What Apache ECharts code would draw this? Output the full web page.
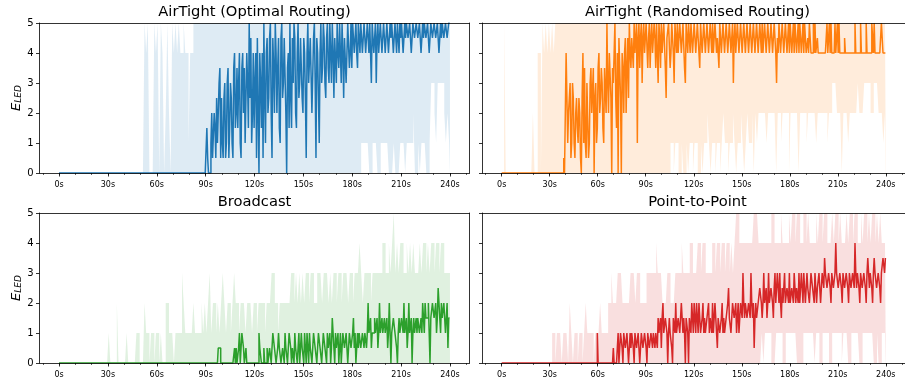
<!DOCTYPE html>
<html><head><meta charset="utf-8">
<script src="https://cdn.jsdelivr.net/npm/echarts@6/dist/echarts.min.js"></script>
<style>html,body{margin:0;padding:0;background:#fff}#c{width:905px;height:383px}</style>
</head><body><div id="c"></div>
<script>
// ---- tick labels ----
const tickSeconds = [0, 30, 60, 90, 120, 150, 180, 210, 240];
const minorSeconds = [-10, 0, 10, 20, 30, 40, 50, 60, 70, 80, 90, 100, 110, 120, 130, 140, 150, 160, 170, 180, 190, 200, 210, 220, 230, 240, 250];
const titles = ['AirTight (Optimal Routing)', 'AirTight (Randomised Routing)', 'Broadcast', 'Point-to-Point'];

// ---- values: *Mid at whole seconds t = 0..240, *MidH at t + 0.5 s (t = 0..239),
//      *Lo / *Hi = band bounds at whole seconds ----
// AirTight (Optimal Routing)
const optMid = [
0,0,0,0,0,0,0,0,0,0,
0,0,0,0,0,0,0,0,0,0,
0,0,0,0,0,0,0,0,0,0,
0,0,0,0,0,0,0,0,0,0,
0,0,0,0,0,0,0,0,0,0,
0,0,0,0,0,0,0,0,0,0,
0,0,0,0,0,0,0,0,0,0,
0,0,0,0,0,0,0,0,0,0,
0,0,0,0,0,0,0,0,0,0,
0,1.5,0,0,2,0.5,1.5,2.5,1,3.5,
2.5,0.5,3,1,3.5,1.5,2.5,0.5,4,2,
1.5,4,0.5,4,3.5,1,3,5,4.5,2,
1.5,4,4.5,0,3,4,5,1,4.5,2.5,
5,0.5,3.5,5,2,4.5,1,5,3,4.5,
0,4,5,1.5,3,4.5,1.5,5,3,4.5,
2,4,0.5,5,3,4.5,2,5,0.5,4,
1,5,3.5,4.5,2.5,5,3,4,5,2.5,
4.5,5,3.5,4,5,2.5,4.5,3,5,4,
3.5,5,4.5,4,5,4,5,4.5,5,4,
4.5,5,3,5,4,3,5,4,5,4.5,
5,4,5,4,4.5,5,4,5,5,4,
4.5,5,4,4.5,5,4.5,5,4,5,4.5,
5,4.5,5,4,4.5,5,4.5,5,4,5,
4.5,5,4.5,5,4,4.5,5,4.5,5,4.5,
5];
const optMidH = [
0,0,0,0,0,0,0,0,0,0,
0,0,0,0,0,0,0,0,0,0,
0,0,0,0,0,0,0,0,0,0,
0,0,0,0,0,0,0,0,0,0,
0,0,0,0,0,0,0,0,0,0,
0,0,0,0,0,0,0,0,0,0,
0,0,0,0,0,0,0,0,0,0,
0,0,0,0,0,0,0,0,0,0,
0,0,0,0,0,0,0,0,0,0,
0,0.5,0,1,0.5,2,0.5,1,3,0.5,
1,2.5,0.5,3,0.5,3,1,3.5,1.5,3.5,
3,1,3.5,2,1,4,1.5,2.5,1,4,
3,0.5,2,4,1.5,0.5,2.5,4,2,4.5,
2,4.5,2,4,3.5,1.5,4.5,2.5,4.5,2,
3.5,1.5,2.5,4.5,5,2,4,2.5,4.5,2.5,
4.5,2.5,4,3,4.5,2,4.5,3,4.5,2.5,
4,3,5,3,4.5,3.5,5,3,4,4.5,
3,4,5,3,4,4.5,3,5,3.5,5,
5,4,5,3.5,4.5,5,4,5,4,5,
4,4,5,4,5,4.5,4,5,4,5,
4,5,4,5,5,4,5,4,4.5,5,
5,4,5,5,4.5,5,4,5,4.5,5,
4.5,5,4,5,5,4.5,5,4,5,4.5,
5,4.5,5,4,5,5,4.5,5,4.5,5];
const optLo = [
0,0,0,0,0,0,0,0,0,0,
0,0,0,0,0,0,0,0,0,0,
0,0,0,0,0,0,0,0,0,0,
0,0,0,0,0,0,0,0,0,0,
0,0,0,0,0,0,0,0,0,0,
0,0,0,0,0,0,0,0,0,0,
0,0,0,0,0,0,0,0,0,0,
0,0,0,0,0,0,0,0,0,0,
0,0,0,0,0,0,0,0,0,0,
0,0,0,0,0,0,0,0,0,0,
0,0,0,0,0,0,0,0,0,0,
0,0,0,0,0,0,0,0,0,0,
0,0,0,0,0,0,0,0,0,0,
0,0,0,0,0,0,0,0,0,0,
0,0,0,0,0,0,0,0,0,0,
0,0,0,0,0,0,0,0,0,0,
0,0,0,0,0,0,0,0,0,0,
0,0,0,0,0,0,0,0,0,0,
0,0,0,0,0,0,1,1,1,1,
1,0,0,1,1,1,0,0,1,1,
1,1,1,0,0,0,1,0,0,0,
1,1,1,0,1,1,1,1,2,0,
0,1,0,1,1,1,0,0,1,3,
3,2,1,3,3,3,3,2,1,2,
1];
const optHi = [
0,0,0,0,0,0,0,0,0,0,
0,0,0,0,0,0,0,0,0,0,
0,0,0,0,0,0,0,0,0,0,
0,0,0,0,0,0,0,0,0,0,
0,0,0,0,0,0,0,0,0,0,
0,0,0,5,4,5,0,0,0,5,
4,5,0,5,4,0,2,5,2,0,
5,4,5,4,5,4,4,5,4,4,
1,4,4,5,5,5,5,5,5,5,
5,5,5,5,5,5,5,5,5,5,
5,5,5,5,5,5,5,5,5,5,
5,5,5,5,5,5,5,5,5,5,
5,5,5,5,5,5,5,5,5,5,
5,5,5,5,5,5,5,5,5,5,
5,5,5,5,5,5,5,5,5,5,
5,5,5,5,5,5,5,5,5,5,
5,5,5,5,5,5,5,5,5,5,
5,5,5,5,5,5,5,5,5,5,
5,5,5,5,5,5,5,5,5,5,
5,5,5,5,5,5,5,5,5,5,
5,5,5,5,5,5,5,5,5,5,
5,5,5,5,5,5,5,5,5,5,
5,5,5,5,5,5,5,5,5,5,
5,5,5,5,5,5,5,5,5,5,
5];

// AirTight (Randomised Routing)
const rndMid = [
0,0,0,0,0,0,0,0,0,0,
0,0,0,0,0,0,0,0,0,0,
0,0,0,0,0,0,0,0,0,0,
0,0,0,0,0,0,0,0,0,0.5,
0,4,2,3,1,2.5,0.5,2.5,1,2,
0,4,3.5,0.5,3,1,3.5,2,0,3,
1.5,4,2.5,3,1,3.5,5,2,4,0,
3,5,1.5,0,4.5,0,3.5,4,2,4.5,
5,3.5,4.5,5,4,1,5,4.5,3,5,
4,5,4.5,3.5,5,4,4.5,5,3,4.5,
5,4,5,2.5,4.5,5,4,5,3,4.5,
5,4,5,4.5,5,3,4.5,5,4,5,
4.5,5,4,5,3.5,4.5,4,4.5,4,5,
4,4.5,5,4,5,4.5,3.5,5,4,5,
4.5,5,4,5,4.5,3,5,4,5,4.5,
5,4,5,4,5,4.5,5,4,5,4,
5,4,4.5,5,4,5,4,5,4,5,
4,5,3,4,5,4,4.5,4,5,4,
4,5,4,4,5,4,4,5,4,4,
4.5,4,4,5,4,5,5,4,4,4,
4,4,4,4,4,5,5,4,4,4,
5,5,4,4,4,4,4,4,4,4,
4,5,4,4,4,4,4,4,5,4,
4,4,5,5,4,4,4,4,5,4,
4];
const rndMidH = [
0,0,0,0,0,0,0,0,0,0,
0,0,0,0,0,0,0,0,0,0,
0,0,0,0,0,0,0,0,0,0,
0,0,0,0,0,0,0,0,0,0,
4,1,2.5,0.5,3,1,2,1.5,2.5,0.5,
2.5,1,1,3,0.5,3,2,3.5,2.5,1,
3.5,2,3.5,1.5,3.5,2,3,4,2.5,3.5,
4,2.5,4,4.5,2.5,4,2,4.5,3.5,2.5,
4,4.5,3.5,4,5,4.5,3.5,5,4.5,4,
5,3.5,5,4.5,4,5,3.5,4,5,3.5,
4,5,3.5,4.5,5,3.5,5,4,5,4,
4,5,4,5,3.5,5,4,4.5,5,4,
5,4,5,4,5,4,5,4,5,4,
5,4,4,5,4,4,5,4,5,4,
5,4,5,4,5,4.5,4,5,4,5,
4,5,4,5,4,5,4,5,4,5,
4,5,4,4,5,4,5,4,5,4,
5,4,4.5,5,4,5,4,5,4,5,
5,4,5,5,4,5,5,4,5,5,
4,4.5,5,4,4,4,4,4.5,4,4,
4,4,4,5,4,4,4,4,5,4,
4,4,4,4,4.5,4,4,4,4,4,
4,4,4,4,5,4,4,4,4,4,
4,5,4,4,4,4,4,5,4,4];
const rndLo = [
0,0,0,0,0,0,0,0,0,0,
0,0,0,0,0,0,0,0,0,0,
0,0,0,0,0,0,0,0,0,0,
0,0,0,0,0,0,0,0,0,0,
0,0,0,0,0,0,0,0,0,0,
0,0,0,0,0,0,0,0,0,0,
0,0,0,0,0,0,0,0,0,0,
0,0,0,0,0,0,0,0,0,0,
0,0,0,0,0,0,0,0,0,0,
0,0,0,0,0,0,0,0,0,0,
0,0,0,0,0,0,1,1,0,1,
1,0,0,1,0,0,1,0,1,1,
0,1,1,0,0,1,0,1,1,2,
1,0,1,1,0,1,1,0,1,2,
1,1,0,1,1,2,1,0,1,1,
2,1,0,1,2,1,1,2,0,2,
1,2,2,2,2,2,1,2,2,2,
2,2,0,2,2,1,2,2,2,2,
0,2,2,2,2,2,0,2,2,2,
2,1,2,2,2,2,2,1,2,2,
2,2,2,2,1,2,2,3,3,3,
2,2,2,0,2,2,2,1,2,2,
2,2,2,3,2,2,2,3,3,3,
3,2,2,3,3,3,2,2,2,1,
2];
const rndHi = [
0,0,5,0,0,0,0,0,0,0,
0,0,0,0,0,0,0,0,0,0,
2,0,0,4,4,0,5,4,5,4,
5,4,5,4,5,5,5,5,5,5,
5,5,5,5,5,5,5,5,5,5,
5,5,5,5,5,5,5,5,5,5,
5,5,5,5,5,5,5,5,5,5,
5,5,5,5,5,5,5,5,5,5,
5,5,5,5,5,5,5,5,5,5,
5,5,5,5,5,5,5,5,5,5,
5,5,5,5,5,5,5,5,5,5,
5,5,5,5,5,5,5,5,5,5,
5,5,5,5,5,5,5,5,5,5,
5,5,5,5,5,5,5,5,5,5,
5,5,5,5,5,5,5,5,5,5,
5,5,5,5,5,5,5,5,5,5,
5,5,5,5,5,5,5,5,5,5,
5,5,5,5,5,5,5,5,5,5,
5,5,5,5,5,5,5,5,5,5,
5,5,5,5,5,5,5,5,5,5,
5,5,5,5,5,5,5,5,5,5,
5,5,5,5,5,5,5,5,5,5,
5,5,5,5,5,5,5,5,5,5,
5,5,5,5,5,5,5,5,5,5,
5];

// Broadcast
const bcMid = [
0,0,0,0,0,0,0,0,0,0,
0,0,0,0,0,0,0,0,0,0,
0,0,0,0,0,0,0,0,0,0,
0,0,0,0,0,0,0,0,0,0,
0,0,0,0,0,0,0,0,0,0,
0,0,0,0,0,0,0,0,0,0,
0,0,0,0,0,0,0,0,0,0,
0,0,0,0,0,0,0,0,0,0,
0,0,0,0,0,0,0,0,0,0,
0,0,0,0,0,0,0,0,0.5,0.5,
0,0,0,0,0,0,0,0,0.5,0.5,
0,1,0.5,1,0,0.5,0,0,0,0,
0,0,0,1,0.5,0,0.5,0,0.5,0,
0.5,0.5,1,0.5,0,1,0.5,0,0.5,1,
0.5,0.5,1,0,0.5,1,0.5,0.5,0,1,
0.5,1,0,0.5,1,0.5,0,1,0.5,0.5,
1,0.5,0,1,0.5,1,0.5,0,1.5,0.5,
1,0.5,0,1,0.5,1,0.5,1,0,1,
0.5,1.5,1,0,0.5,1,0.5,1,1,0.5,
2,1,0.5,1,1.5,1,0.5,2,1,1,
1.5,1,0.5,2,0,1,1.5,1,0,1.5,
1,1.5,2,1,0.5,2,1,0,1.5,1,
1,1.5,1,1,1.5,2,1.5,2,0,1.5,
2,1.5,1,2.5,1.5,2,1.5,2,1,0.5,
1.5];
const bcMidH = [
0,0,0,0,0,0,0,0,0,0,
0,0,0,0,0,0,0,0,0,0,
0,0,0,0,0,0,0,0,0,0,
0,0,0,0,0,0,0,0,0,0,
0,0,0,0,0,0,0,0,0,0,
0,0,0,0,0,0,0,0,0,0,
0,0,0,0,0,0,0,0,0,0,
0,0,0,0,0,0,0,0,0,0,
0,0,0,0,0,0,0,0,0,0,
0,0,0,0,0,0,0,0,0.5,0,
0,0,0,0,0,0,0,0,0,0,
0.5,0,1,0.5,0,0,0,0,0,0,
0,0,0,0.5,0,0,0,0,0,0.5,
0,1,0.5,0,0.5,0.5,0,0.5,0,0.5,
0,1,0.5,0.5,0,0.5,0,1,0.5,0.5,
0,0.5,1,0,0.5,0,1,0.5,0,1,
0.5,0,1,0.5,0,0.5,1,0.5,1,0,
0.5,1,0.5,0,1,0.5,1,0,1,0.5,
1,0.5,0,1,1,0.5,1,0.5,1,1,
1,1.5,1,1,1,1.5,1,1,1.5,1,
1,1.5,1,1,1,1.5,1,0.5,1,1,
1.5,1,1,1.5,1,1,1.5,1,1,1.5,
1.5,1,1.5,2,1,1.5,1.5,1,1.5,2,
1.5,2,1.5,2,1,1.5,2,1,2,1.5];
const bcLo = [
0,0,0,0,0,0,0,0,0,0,
0,0,0,0,0,0,0,0,0,0,
0,0,0,0,0,0,0,0,0,0,
0,0,0,0,0,0,0,0,0,0,
0,0,0,0,0,0,0,0,0,0,
0,0,0,0,0,0,0,0,0,0,
0,0,0,0,0,0,0,0,0,0,
0,0,0,0,0,0,0,0,0,0,
0,0,0,0,0,0,0,0,0,0,
0,0,0,0,0,0,0,0,0,0,
0,0,0,0,0,0,0,0,0,0,
0,0,0,0,0,0,0,0,0,0,
0,0,0,0,0,0,0,0,0,0,
0,0,0,0,0,0,0,0,0,0,
0,0,0,0,0,0,0,0,0,0,
0,0,0,0,0,0,0,0,0,0,
0,0,0,0,0,0,0,0,0,0,
0,0,0,0,0,0,0,0,0,0,
0,0,0,0,0,0,0,0,0,0,
0,0,0,0,0,0,0,0,0,0,
0,0,0,0,0,0,0,0,0,0,
0,0,0,0,0,0,0,0,0,0,
0,0,0,0,0,0,0,0,0,0,
0,0,0,0,0,0,0,0,0,0,
0];
const bcHi = [
0,0,0,0,0,0,0,0,0,0,
0,0,0,0,0,0,0,0,0,0,
0,0,0,0,0,0,0,0,0,0,
0,1,0,0,0,0,2,0,0,0,
0,0,1,0,0,0,0,0,1,1,
0,0,0,2,1,1,0,1,1,0,
1,1,0,1,0,0,2,2,1,1,
1,0,1,1,1,1,3,2,1,1,
1,1,1,2,1,1,1,1,2,1,
2,1,2,3,1,2,2,1,2,1,
2,3,2,1,2,2,1,2,3,2,
2,1,2,2,2,1,2,2,2,1,
2,2,1,2,2,2,2,1,2,2,
2,3,3,2,2,1,2,2,2,2,
2,2,2,3,3,2,3,2,3,2,
3,2,3,3,2,3,3,2,2,3,
3,3,2,3,3,3,2,3,2,3,
3,2,3,3,2,3,3,3,2,3,
3,2,3,3,3,4,3,2,3,3,
3,3,2,3,3,3,3,3,3,4,
4,3,3,4,3,4,5,3,4,3,
4,4,3,3,4,3,4,3,4,3,
3,3,4,3,4,4,3,4,3,4,
4,3,4,4,3,4,4,3,3,3,
3];

// Point-to-Point
const ptpMid = [
0,0,0,0,0,0,0,0,0,0,
0,0,0,0,0,0,0,0,0,0,
0,0,0,0,0,0,0,0,0,0,
0,0,0,0,0,0,0,0,0,0,
0,0,0,0,0,0,0,0,0,0,
0,0,0,0,0,0,0,0,0,0,
1,0,0,0,0,0,0,0,0,0,
0.5,0,0,1,0.5,1,0,1,0.5,1,
0,0.5,1,0,1,0.5,1,0,1,0.5,
1,0,1,0.5,1,1,0.5,1,1.5,1,
0.5,2,1,1.5,0,1.5,1,0,1.5,2,
1,1.5,1,2,1.5,0,1.5,0,1.5,2,
1,1.5,2,1,1.5,1,2,1.5,1,1.5,
1,1.5,2,1,1.5,0.5,1.5,1,2,1.5,
1,1.5,2.5,1.5,1,2,1.5,1,2,1.5,
2,3,1.5,2,1.5,2,3,1.5,0.5,2,
1.5,2,2.5,1.5,3,2,1.5,3,2,2.5,
1.5,3,2,2.5,3,1.5,2,3,2,2.5,
3,2,2.5,3,2,2.5,3,2,2.5,3,
2,3,2.5,2,3,2.5,3,2,2.5,3,
2.5,3,3.5,3,2.5,3,2,3,2.5,4,
3,2.5,3,2,3,2.5,3,2,3,2.5,
3,4,2.5,3,2,3,2.5,3,2,3.5,
2.5,3,2,3.5,3,2.5,3,2,3,3.5,
3.5];
const ptpMidH = [
0,0,0,0,0,0,0,0,0,0,
0,0,0,0,0,0,0,0,0,0,
0,0,0,0,0,0,0,0,0,0,
0,0,0,0,0,0,0,0,0,0,
0,0,0,0,0,0,0,0,0,0,
0,0,0,0,0,0,0,0,0,0,
0,0,0,0,0,0,0,0,0,0,
0,0,0.5,0,1,0.5,1,0.5,1,0,
1,1,0.5,1,0.5,1,0,1,0.5,1,
0.5,1,0.5,1,0.5,1,1,0.5,1,1.5,
1.5,1,1.5,1,1,1,0.5,1.5,1,1,
1.5,1,2,1,1,1.5,1,1.5,1,1.5,
2,1,1.5,2,1,1.5,1,1,1.5,2,
1.5,1,1,2,1,1.5,1,1.5,1,1,
1.5,2,1.5,1,2,1.5,2,1.5,1,2,
1.5,2,2,1.5,2,1.5,2,2,1.5,1.5,
2,2.5,2,2,2,2.5,2,2,2.5,2,
2.5,2,3,2,2,2.5,2,2,2.5,2,
2,2.5,2,2.5,2.5,2,2,3,2,2.5,
2.5,2.5,2,3,2.5,2,2.5,2.5,3,2,
3,2.5,3,2.5,3,2.5,3,2.5,3,3,
2.5,3,2.5,3,2.5,3,2.5,3,2.5,3,
2.5,3,3,2.5,3,2.5,3,2.5,3,3,
3,2.5,3,3,2.5,3,2.5,3,3.5,3];
const ptpLo = [
0,0,0,0,0,0,0,0,0,0,
0,0,0,0,0,0,0,0,0,0,
0,0,0,0,0,0,0,0,0,0,
0,0,0,0,0,0,0,0,0,0,
0,0,0,0,0,0,0,0,0,0,
0,0,0,0,0,0,0,0,0,0,
0,0,0,0,0,0,0,0,0,0,
0,0,0,0,0,0,0,0,0,0,
0,0,0,0,0,0,0,0,0,0,
0,0,0,0,0,0,0,0,0,0,
0,0,0,0,0,0,0,0,0,0,
0,0,0,0,0,0,0,0,0,0,
0,0,0,0,0,0,0,0,0,0,
0,0,0,0,0,0,0,0,0,0,
0,0,0,0,0,0,0,0,0,0,
0,0,0,0,0,0,0,0,0,0,
0,0,0,1,0,1,1,1,1,0,
0,0,1,1,1,1,0,0,1,1,
1,1,1,1,1,0,0,0,0,1,
1,1,1,1,1,1,0,1,1,0,
0,1,1,1,1,0,0,1,1,1,
1,1,1,0,1,1,1,0,0,1,
1,1,1,1,0,0,1,1,1,1,
1,1,1,0,0,1,0,0,1,1,
1];
const ptpHi = [
0,0,0,0,0,0,0,0,0,0,
0,0,0,0,0,0,0,0,0,0,
0,0,0,0,0,0,0,0,0,0,
0,0,1,1,0,1,1,1,0,1,
1,1,0,2,1,0,1,1,0,1,
1,0,1,2,1,1,1,1,0,1,
1,1,2,1,1,1,1,2,2,3,
2,2,2,3,3,3,2,2,2,2,
2,3,3,3,2,3,3,2,2,2,
2,3,3,3,3,3,3,4,3,3,
3,2,2,2,3,3,2,2,2,3,
3,3,3,4,3,3,3,3,4,4,
3,3,3,4,4,3,4,4,3,3,
3,3,4,4,3,4,4,3,4,4,
3,4,4,3,4,3,4,5,5,4,
4,4,4,4,4,4,4,4,5,5,
5,4,4,4,4,4,4,4,4,5,
5,4,4,4,4,5,4,4,4,4,
5,4,5,5,4,5,5,4,4,5,
5,4,5,4,4,4,4,5,4,5,
5,4,5,5,4,4,4,5,4,5,
5,4,5,4,4,4,5,4,5,5,
4,5,5,4,4,5,4,5,5,4,
5,4,5,5,4,5,4,5,4,4,
4];

// ---- layout / styling ----
const FONT = "'DejaVu Sans', sans-serif";
const W = 430, H = 150;
const panels = [
  {title: titles[0], color: '#1f77b4', band: 'rgba(31,119,180,0.15)', mid: optMid, midH: optMidH, lo: optLo, hi: optHi, left: 39.5, top: 23, yl: true},
  {title: titles[1], color: '#ff7f0e', band: 'rgba(255,127,14,0.15)', mid: rndMid, midH: rndMidH, lo: rndLo, hi: rndHi, left: 482.5, top: 23, yl: false},
  {title: titles[2], color: '#2ca02c', band: 'rgba(44,160,44,0.15)', mid: bcMid, midH: bcMidH, lo: bcLo, hi: bcHi, left: 39.5, top: 213, yl: true},
  {title: titles[3], color: '#d62728', band: 'rgba(214,39,40,0.15)', mid: ptpMid, midH: ptpMidH, lo: ptpLo, hi: ptpHi, left: 482.5, top: 213, yl: false}
];
const LAST = 240;
// pair whole-second samples with their half-second companions -> [time, value]
function samples(whole, half) {
  const out = [];
  whole.forEach((v, t) => {
    out.push([t, v]);
    if (half && t < half.length) out.push([t + 0.5, half[t]]);
  });
  return out;
}
// each sample is held flat over its own interval (step drawing through the value axes)
function held(pts, w) {
  const out = [];
  pts.forEach(([x, v]) => {
    out.push([Math.max(0, x - w), v]);
    out.push([Math.min(LAST, x + w), v]);
  });
  return out;
}
const spine = {color: '#000', width: 0.8};
const option = {animation: false, backgroundColor: '#fff', title: [], grid: [], xAxis: [], yAxis: [], series: []};

panels.forEach((p, i) => {
  const g = option.grid.length;
  option.grid.push({left: p.left, top: p.top, width: W, height: H});
  option.grid.push({left: p.left, top: p.top, width: W, height: H});
  option.title.push({text: p.title, left: p.left + W / 2, top: p.top - 18.5, textAlign: 'center', padding: 0,
    textStyle: {fontSize: 14.7, fontWeight: 'normal', fontFamily: FONT, color: '#000'}});
  const xi = option.xAxis.length;
  option.xAxis.push({gridIndex: g, type: 'value', min: -12, max: 252, position: 'bottom', z: 10,
    axisLine: {show: true, onZero: false, lineStyle: spine},
    axisTick: {show: true, customValues: tickSeconds, length: 3.5, lineStyle: spine},
    axisLabel: {show: true, customValues: tickSeconds, formatter: v => v + 's', fontSize: 8, margin: 8, color: '#000', fontFamily: FONT},
    splitLine: {show: false}});
  option.xAxis.push({gridIndex: g, type: 'value', min: -12, max: 252, position: 'top', z: 10,
    axisLine: {show: true, onZero: false, lineStyle: spine}, axisTick: {show: false}, axisLabel: {show: false}, splitLine: {show: false}});
  option.xAxis.push({gridIndex: g + 1, type: 'value', min: -12, max: 252, position: 'bottom', z: 10,
    axisLine: {show: false}, axisTick: {show: true, customValues: minorSeconds, length: 2, lineStyle: {color: '#000', width: 0.6}},
    axisLabel: {show: false}, splitLine: {show: false}});
  const yi = option.yAxis.length;
  option.yAxis.push({gridIndex: g, type: 'value', min: 0, max: 5, interval: 1, position: 'left', z: 10,
    axisLine: {show: true, onZero: false, lineStyle: spine},
    axisTick: {show: true, length: 3.5, lineStyle: spine},
    axisLabel: {show: p.yl, fontSize: 10, margin: 6, color: '#000', fontFamily: FONT},
    splitLine: {show: false},
    name: p.yl ? '{e|E}{s|LED}' : '', nameLocation: 'middle', nameRotate: 90, nameGap: 12,
    nameTextStyle: {fontFamily: FONT, color: '#000', rich: {
      e: {fontSize: 13, fontStyle: 'italic', fontFamily: FONT, color: '#000', lineHeight: 24, verticalAlign: 'bottom'},
      s: {fontSize: 9, fontStyle: 'italic', fontFamily: FONT, color: '#000', lineHeight: 16, verticalAlign: 'bottom'}}}});
  option.yAxis.push({gridIndex: g, type: 'value', min: 0, max: 5, position: 'right', z: 10,
    axisLine: {show: true, onZero: false, lineStyle: spine}, axisTick: {show: false}, axisLabel: {show: false}, splitLine: {show: false}});
  option.yAxis.push({gridIndex: g + 1, type: 'value', min: 0, max: 5, show: false});

  // light band: area up to the maximum, then the part below the minimum painted white
  option.series.push({type: 'line', xAxisIndex: xi, yAxisIndex: yi, symbol: 'none', silent: true,
    lineStyle: {width: 0, opacity: 0}, areaStyle: {color: p.band, opacity: 1}, z: 1, data: held(samples(p.hi), 0.5)});
  option.series.push({type: 'line', xAxisIndex: xi, yAxisIndex: yi, symbol: 'none', silent: true,
    lineStyle: {width: 0, opacity: 0}, areaStyle: {color: '#fff', opacity: 1}, z: 2, data: held(samples(p.lo), 0.5)});
  option.series.push({type: 'line', xAxisIndex: xi, yAxisIndex: yi, symbol: 'none', silent: true,
    lineStyle: {width: 1.5, color: p.color}, itemStyle: {color: p.color}, z: 3, data: held(samples(p.mid, p.midH), 0.25)});
});

const chart = echarts.init(document.getElementById('c'), null, {renderer: 'canvas'});
chart.setOption(option);
</script>
</body></html>
